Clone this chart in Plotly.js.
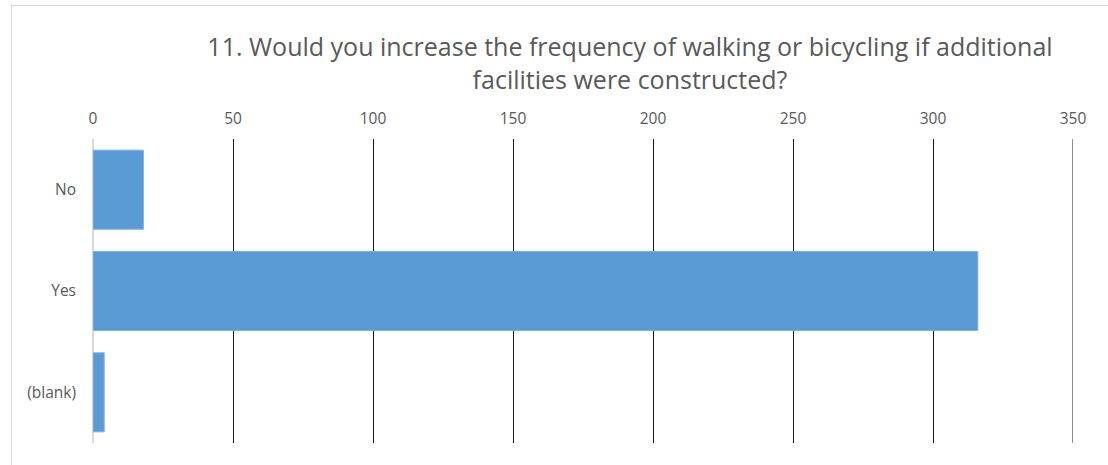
<!DOCTYPE html>
<html>
<head>
<meta charset="utf-8">
<script src="https://cdn.plot.ly/plotly-3.0.1.min.js"></script>
<style>
html,body{margin:0;padding:0;background:#fff;overflow:hidden;}
#wrap{position:relative;width:1108px;height:465px;overflow:hidden;}
#chart{position:absolute;left:0;top:0;width:1108px;height:465px;}
#frame{position:absolute;left:11px;top:5px;width:1200px;height:600px;border:1px solid #d9d9d9;pointer-events:none;}
</style>
</head>
<body>
<div id="wrap">
<div id="chart"></div>
<div id="frame"></div>
</div>
<script>
var categories = ["No", "Yes", "(blank)"];
var counts = [18, 316, 4];
var xTicks = [0, 50, 100, 150, 200, 250, 300, 350];
var chartTitle = "11. Would you increase the frequency of walking or bicycling if additional<br>facilities were constructed?";

var trace = {
  type: "bar",
  orientation: "h",
  y: categories,
  x: counts,
  marker: {color: "#5b9bd5", line: {color: "#7fb1e0", width: 1}},
  hoverinfo: "x+y"
};

var xMax = xTicks[xTicks.length - 1];

var layout = {
  width: 1108,
  height: 465,
  margin: {l: 93, r: 35, t: 139, b: 22},
  paper_bgcolor: "rgba(0,0,0,0)",
  plot_bgcolor: "rgba(0,0,0,0)",
  font: {family: "Open Sans, sans-serif", color: "#595959", size: 15},
  title: {
    text: chartTitle,
    font: {family: "Open Sans, sans-serif", size: 25, color: "#595959"},
    xref: "container", x: 630/1108, xanchor: "center",
    yref: "container", y: 1 - 56/465, yanchor: "middle"
  },
  bargap: 0.22,
  showlegend: false,
  shapes: [{
    type: "line", xref: "x", yref: "paper",
    x0: xMax, x1: xMax, y0: 0, y1: 1,
    line: {color: "#1a1a1a", width: 1}, layer: "below"
  }],
  xaxis: {
    side: "top",
    range: [0, xMax],
    tickvals: xTicks,
    ticktext: xTicks.map(String),
    showgrid: true,
    gridcolor: "#1a1a1a",
    gridwidth: 1,
    zeroline: true,
    zerolinecolor: "#d9d9d9",
    zerolinewidth: 2,
    showline: false,
    ticks: "",
    ticklabelstandoff: 11,
    tickfont: {size: 15.5, color: "#595959"},
    fixedrange: true
  },
  yaxis: {
    type: "category",
    categoryorder: "array",
    categoryarray: categories,
    autorange: "reversed",
    showgrid: false,
    zeroline: false,
    showline: false,
    ticks: "",
    ticklabelstandoff: 16,
    tickfont: {size: 15.5, color: "#595959"},
    fixedrange: true
  }
};

Plotly.newPlot("chart", [trace], layout, {displayModeBar: false, staticPlot: true});
</script>
</body>
</html>
